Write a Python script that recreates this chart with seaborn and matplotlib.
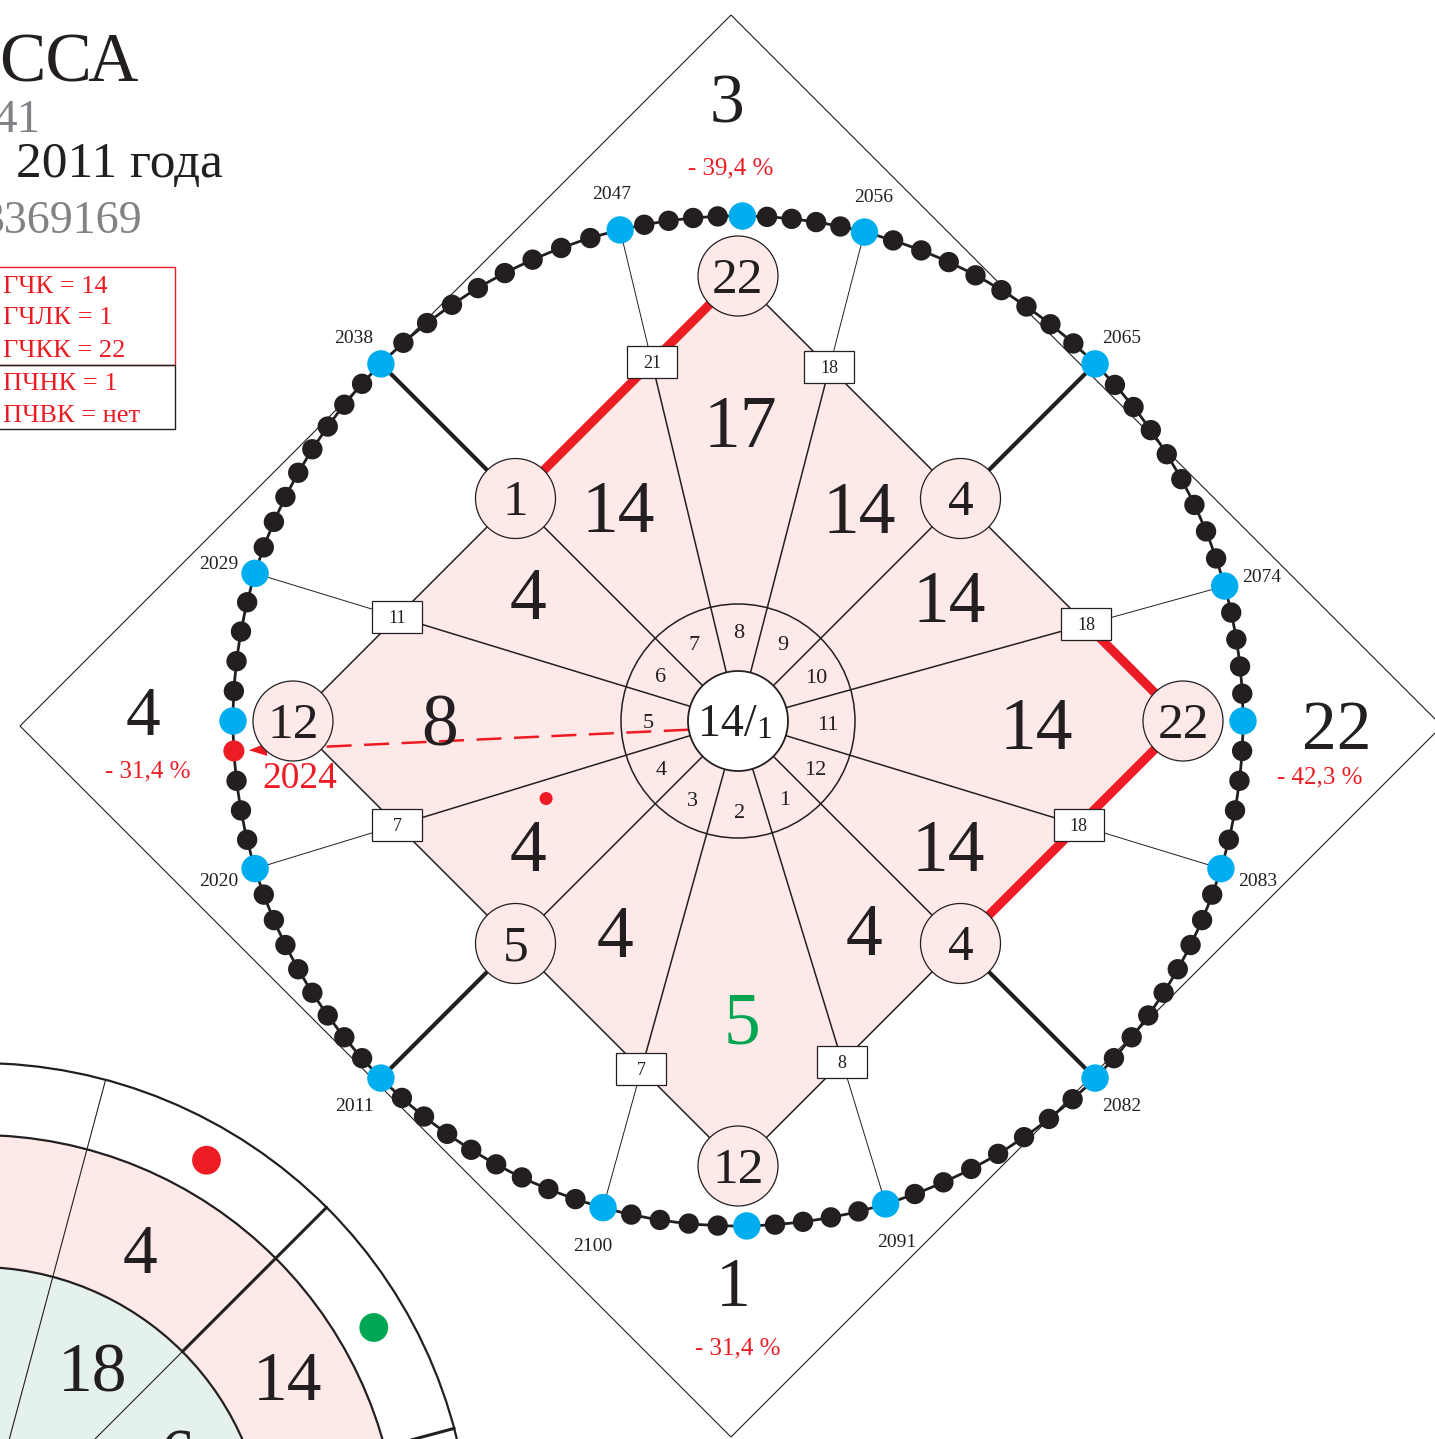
import numpy as np
import pandas as pd
import matplotlib
matplotlib.use("Agg")
import matplotlib.pyplot as plt
import seaborn as sns
from matplotlib.patches import Circle, Polygon, Rectangle, Wedge

# ---------------- data ----------------
# blue marker dots on the year ring (clockwise from 2011), math angles in degrees
anchor_angles = [225, 197, 180, 163, 135, 103.5, 89.5, 75.5, 45, 15.5, 0, -17, -45, -73, -89, -105.5]
anchor_years = ["2011", "2020", "", "2029", "2038", "2047", "", "2056",
                "2065", "2074", "", "2083", "2082", "2091", "", "2100"]
black_dots_after = [8, 4, 4, 8, 8, 4, 4, 8, 8, 4, 4, 8, 7, 4, 4, 8]
marked_year = "2024"
marked_segment = 1
marked_position = 4

# spokes of the inner diamond (clockwise from the upper-left diagonal)
spoke_angles = [135, 103.5, 75.5, 45, 15.5, -17, -45, -73, -105.5, -135, -163, -197]
spoke_kinds = ["circle", "box", "box", "circle", "box", "box", "circle", "box", "box", "circle", "box", "box"]
spoke_values = ["1", "21", "18", "4", "18", "18", "4", "8", "7", "5", "7", "11"]

# sectors between consecutive spokes (same clockwise order)
sector_values = ["14", "17", "14", "14", "14", "14", "4", "5", "4", "4", "8", "4"]
ring_numbers = ["7", "8", "9", "10", "11", "12", "1", "2", "3", "4", "5", "6"]
green_sector = 7
dotted_sector = 9

vertex_angles = [90, 0, -90, 180]
vertex_values = ["22", "22", "12", "12"]

corner_values = ["3", "22", "1", "4"]
corner_percents = ["- 39,4 %", "- 42,3 %", "- 31,4 %", "- 31,4 %"]

red_edges = [(135, 90), (15.5, 0), (0, -45)]

center_main = "14/"
center_sub = "1"

title_big = "ССА"
title_gray1 = "41"
title_date = "2011 года"
title_gray2 = "3369169"

legend_red = ["ГЧК = 14", "ГЧЛК = 1", "ГЧКК = 22"]
legend_black = ["ПЧНК = 1", "ПЧВК = нет"]

# partial wheel in the lower-left corner
wheel_spokes = [75, 45, 15]
wheel_thick = [False, True, True]
wheel_outer_values = ["4", "14"]
wheel_inner_values = ["18", "6"]
wheel_dot_colors = ["#ed1c24", "#00a651"]

# ---------------- style / layout ----------------
DARK = "#231f20"
PINK = "#fde9e7"
GREEN_FILL = "#e4f2eb"
RED = "#ed1c24"
BLUE = "#00aeef"
GREEN = "#00a651"
GRAY = "#808285"

W, H = 1435, 1439
CX, CY = 738, 721
R_RING = 505
R_IN = 445
OX, OY, R_OUT = 731, 726, 711
WX, WY = -22, 1556
W_R = [289, 421, 493]

sns.set_theme(style="white")
plt.rcParams["font.family"] = ["Liberation Serif", "DejaVu Serif"]

fig = plt.figure(figsize=(W / 100, H / 100), dpi=100)
ax = fig.add_axes([0, 0, 1, 1])


def pt(a, r, cx=CX, cy=CY):
    t = np.deg2rad(a)
    return cx + r * np.cos(t), cy - r * np.sin(t)


def ctext(x, y, s, fs, color=DARK, **kw):
    # visually centre digits on (x, y)
    ax.text(x, y + 0.458 * fs, s, fontsize=fs, color=color, ha="center", va="baseline", **kw)


def diamond_r(a, R=R_IN):
    t = np.deg2rad(a)
    return R / (abs(np.cos(t)) + abs(np.sin(t)))


# ---- lower-left partial wheel ----
ax.add_patch(Wedge((WX, WY), W_R[0], 0, 360, fc=GREEN_FILL, ec="none", zorder=0.5))
ax.add_patch(Wedge((WX, WY), W_R[1], 0, 360, width=W_R[1] - W_R[0], fc=PINK, ec="none", zorder=0.5))
for r in W_R:
    ax.add_patch(Circle((WX, WY), r, fill=False, ec=DARK, lw=1.6, zorder=0.7))
for a, thick in zip(wheel_spokes, wheel_thick):
    x0, y0 = pt(a, 0, WX, WY)
    x1, y1 = pt(a, W_R[2], WX, WY)
    ax.plot([x0, x1], [y0, y1], color=DARK, lw=0.8, zorder=0.8)
    if thick:
        xa, ya = pt(a, W_R[0], WX, WY)
        ax.plot([xa, x1], [ya, y1], color=DARK, lw=2.2, zorder=0.8)
wheel_mid = [(wheel_spokes[i] + wheel_spokes[i + 1]) / 2 for i in range(len(wheel_spokes) - 1)]
ctext(*pt(wheel_mid[0] + 2, 346, WX, WY), wheel_outer_values[0], 50, zorder=1)
ctext(*pt(wheel_mid[1], 357, WX, WY), wheel_outer_values[1], 50, zorder=1)
ctext(*pt(wheel_mid[0] - 1.5, 220, WX, WY), wheel_inner_values[0], 50, zorder=1)
ctext(*pt(wheel_mid[1] - 3, 224, WX, WY), wheel_inner_values[1], 50, zorder=1)
wdots = pd.DataFrame({
    "x": [pt(m, 457, WX, WY)[0] for m in wheel_mid],
    "y": [pt(m, 457, WX, WY)[1] for m in wheel_mid],
    "c": ["a", "b"],
})
sns.scatterplot(data=wdots, x="x", y="y", hue="c", palette=dict(zip(["a", "b"], wheel_dot_colors)),
                s=430, linewidth=0, legend=False, ax=ax, zorder=1)

# ---- outer big diamond ----
outer = [pt(a, R_OUT, OX, OY) for a in (90, 0, -90, 180)]
ax.add_patch(Polygon(outer, closed=True, fill=False, ec=DARK, lw=0.8, zorder=1))

# ---- inner pink diamond ----
inner = [pt(a, R_IN) for a in vertex_angles]
ax.add_patch(Polygon(inner, closed=True, fc=PINK, ec=DARK, lw=1.1, zorder=2))

# ---- spokes ----
for a, kind in zip(spoke_angles, spoke_kinds):
    re = diamond_r(a)
    x0, y0 = CX, CY
    x1, y1 = pt(a, re)
    x2, y2 = pt(a, R_RING)
    ax.plot([x0, x1], [y0, y1], color=DARK, lw=1.1, zorder=3)
    if kind == "circle":
        ax.plot([x1, x2], [y1, y2], color=DARK, lw=3.0, zorder=3, solid_capstyle="butt")
    else:
        ax.plot([x1, x2], [y1, y2], color=DARK, lw=0.7, zorder=3)

# ---- red edges ----
for a0, a1 in red_edges:
    xa, ya = pt(a0, diamond_r(a0))
    xb, yb = pt(a1, diamond_r(a1))
    ax.plot([xa, xb], [ya, yb], color=RED, lw=6.5, zorder=3.5, solid_capstyle="butt")

# ---- ring line ----
ax.add_patch(Circle((CX, CY), R_RING, fill=False, ec=DARK, lw=2.0, zorder=4))

# ---- ring dots via seaborn ----
rows = []
mark_xy = None
n_anchor = len(anchor_angles)
for i, a0 in enumerate(anchor_angles):
    a1 = anchor_angles[(i + 1) % n_anchor]
    if a1 > a0:
        a1 -= 360
    x, y = pt(a0, R_RING)
    rows.append({"x": x, "y": y, "kind": "anchor"})
    n = black_dots_after[i]
    for j in range(1, n + 1):
        a = a0 + (a1 - a0) * j / (n + 1)
        x, y = pt(a, R_RING)
        kind = "dot"
        if i == marked_segment and j == marked_position:
            kind = "mark"
            mark_xy = (x, y, a)
        rows.append({"x": x, "y": y, "kind": kind})
ring_df = pd.DataFrame(rows)
sns.scatterplot(data=ring_df, x="x", y="y", hue="kind", size="kind",
                palette={"dot": DARK, "anchor": BLUE, "mark": RED},
                sizes={"dot": 215, "anchor": 390, "mark": 230},
                linewidth=0, legend=False, ax=ax, zorder=6)

# year labels
for a, yr in zip(anchor_angles, anchor_years):
    if yr:
        x, y = pt(a, 543)
        ctext(x, y, yr, 14, zorder=7)

# ---- dashed red arrow to the marked year ----
sx, sy = pt(190, 50)
mx, my, ma = mark_xy
ux, uy = sx - mx, sy - my
nrm = np.hypot(ux, uy)
ux, uy = ux / nrm, uy / nrm
tip = np.array([mx + ux * 15, my + uy * 15])
u = np.array([ux, uy])
nvec = np.array([-uy, ux])
base = tip + u * 18
ax.plot([sx, base[0]], [sy, base[1]], color=RED, lw=1.8, dashes=(10, 5), zorder=4)
head = [tip, base + nvec * 6.5, base - nvec * 6.5]
ax.add_patch(Polygon(head, closed=True, fc=RED, ec="none", zorder=4))
ctext(mx + 66, my + 25, marked_year, 27, color=RED, zorder=7)

# ---- vertex and mid circles ----
for a, v in zip(vertex_angles, vertex_values):
    x, y = pt(a, R_IN)
    ax.add_patch(Circle((x, y), 40, fc=PINK, ec=DARK, lw=0.9, zorder=5))
    ctext(x, y, v, 37, zorder=7)
for a, kind, v in zip(spoke_angles, spoke_kinds, spoke_values):
    x, y = pt(a, diamond_r(a))
    if kind == "circle":
        ax.add_patch(Circle((x, y), 40, fc=PINK, ec=DARK, lw=0.9, zorder=5))
        ctext(x, y, v, 37, zorder=7)
    else:
        ax.add_patch(Rectangle((x - 25, y - 16), 50, 32, fc="white", ec=DARK, lw=0.9, zorder=5))
        ctext(x, y, v, 13, zorder=7)

# ---- sector numbers ----
n_sp = len(spoke_angles)
for k in range(n_sp):
    a0 = spoke_angles[k]
    a1 = spoke_angles[(k + 1) % n_sp]
    if a1 > a0:
        a1 -= 360
    mid = (a0 + a1) / 2
    near_axis = abs(((mid + 45) % 90) - 45) < 10
    r = 298 if near_axis else 245
    x, y = pt(mid, r)
    ctext(x, y, sector_values[k], 53, color=GREEN if k == green_sector else DARK, zorder=7)
    xr, yr = pt(mid, 90)
    ctext(xr, yr, ring_numbers[k], 16, zorder=7)
    if k == dotted_sector:
        dx, dy = pt(mid - 9, 207)
        ax.add_patch(Circle((dx, dy), 6.5, fc=RED, ec="none", zorder=7))

# ---- centre ----
ax.add_patch(Circle((CX, CY), 117, fill=False, ec=DARK, lw=1.1, zorder=3))
ax.add_patch(Circle((CX, CY), 50, fc="white", ec=DARK, lw=1.3, zorder=5))
ax.text(CX + 19, CY + 15, center_main, fontsize=33, color=DARK, ha="right", va="baseline", zorder=7)
ax.text(CX + 18, CY + 17, center_sub, fontsize=23, color=DARK, ha="left", va="baseline", zorder=7)

# ---- corner labels ----
corner_num_pos = [(727, 100), (1337, 726), (733, 1283), (143, 712)]
corner_pct_pos = [(731, 166), (1320, 775), (738, 1346), (148, 769)]
for v, p, (nx, ny), (px_, py_) in zip(corner_values, corner_percents, corner_num_pos, corner_pct_pos):
    ctext(nx, ny, v, 50, zorder=7)
    ctext(px_, py_, p, 18, color=RED, zorder=7)

# ---- title block ----
ax.text(138, 82, title_big, fontsize=50, color=DARK, ha="right", va="baseline")
ax.text(40, 132, title_gray1, fontsize=34, color=GRAY, ha="right", va="baseline")
ax.text(16, 177, title_date, fontsize=37, color=DARK, ha="left", va="baseline")
ax.text(142, 233, title_gray2, fontsize=33, color=GRAY, ha="right", va="baseline")

# ---- legend boxes ----
ax.add_patch(Rectangle((-2, 267), 177, 98, fill=False, ec=RED, lw=1.0, zorder=3))
ax.add_patch(Rectangle((-2, 365), 177, 64, fill=False, ec=DARK, lw=1.0, zorder=3))
for s, yb in zip(legend_red, [293, 324, 357]):
    ax.text(3, yb, s, fontsize=19, color=RED, ha="left", va="baseline")
for s, yb in zip(legend_black, [390, 422]):
    ax.text(3, yb, s, fontsize=19, color=RED, ha="left", va="baseline")

ax.set_xlim(0, W)
ax.set_ylim(H, 0)
ax.set_xlabel("")
ax.set_ylabel("")
ax.axis("off")
fig.savefig("out.png", dpi=100, facecolor="white")
